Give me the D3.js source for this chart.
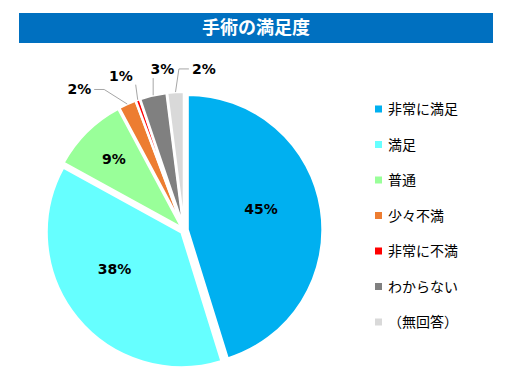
<!DOCTYPE html>
<html>
<head>
<meta charset="utf-8">
<script src="https://cdn.jsdelivr.net/npm/d3@7"></script>
<style>
  body { margin: 0; background: #fff; }
  svg { display: block; }
</style>
</head>
<body>
<div id="chart"></div>
<script>
const title = "手術の満足度";
const categories = ["非常に満足", "満足", "普通", "少々不満", "非常に不満", "わからない", "（無回答）"];
const values = [45.2, 37.8, 9.2, 2.1, 0.5, 3.2, 2.0];
const colors = ["#00B0F0", "#66FFFF", "#99FF99", "#ED7D31", "#FF0000", "#808080", "#D9D9D9"];

const W = 514, H = 385;
const cx = 184.2, cy = 230.2, R = 135, explode = 3.4;

const svg = d3.select("#chart").append("svg")
  .attr("width", W).attr("height", H);

// title bar
svg.append("rect").attr("x", 19).attr("y", 13).attr("width", 474).attr("height", 30)
  .attr("fill", "#0070C0");
svg.append("text").attr("x", 256).attr("y", 28).attr("dy", "0.36em")
  .attr("text-anchor", "middle").attr("fill", "#fff")
  .style("font-family", "'Noto Sans CJK JP'").style("font-weight", "bold").style("font-size", "18px")
  .text(title);

const pie = d3.pie().sort(null).value(d => d.v);
const data = pie(categories.map((c, i) => ({ c, v: values[i], col: colors[i] })));
const arc = d3.arc().innerRadius(0).outerRadius(R);

const mid = d => (d.startAngle + d.endAngle) / 2;

const g = svg.append("g").attr("transform", `translate(${cx},${cy})`);

g.selectAll("path.slice").data(data).enter().append("path")
  .attr("class", "slice")
  .attr("d", arc)
  .attr("transform", d => `translate(${explode * Math.sin(mid(d))},${-explode * Math.cos(mid(d))})`)
  .attr("fill", d => d.data.col)
  .attr("stroke", "#fff").attr("stroke-width", 2.5).attr("stroke-linejoin", "round");

const fmt = v => Math.round(v) + "%";
const labelFont = sel => sel.style("font-family", "'DejaVu Sans'").style("font-weight", "bold")
  .style("font-size", "14px").attr("fill", "#000");

// inside labels for big slices (nudged a bit toward the top, like excel does)
const inside = data.filter(d => d.data.v >= 5);
inside.forEach(d => {
  let a = mid(d);
  const span = d.endAngle - d.startAngle;
  const toTop = a > Math.PI ? (2 * Math.PI - a) : -a;
  const big = span > Math.PI / 2;
  if (big) a += toTop * 0.08;
  const lr = R * (big ? 0.59 : 0.74);
  g.append("text")
    .attr("x", lr * Math.sin(a)).attr("y", -lr * Math.cos(a)).attr("dy", "0.36em")
    .attr("text-anchor", "middle")
    .call(labelFont)
    .text(fmt(d.data.v));
});

// outside labels: evenly spread in x, sitting on an ellipse above the pie
const outside = data.filter(d => d.data.v < 5);
const spacing = 41.5, ea = 212, eb = 162;
const meanX = d3.mean(outside, d => 165 * Math.sin(mid(d)));
outside.forEach((d, i) => {
  const lx = meanX + (i - (outside.length - 1) / 2) * spacing;
  const ly = -eb * Math.sqrt(Math.max(0, 1 - (lx / ea) ** 2));
  const t = g.append("text")
    .attr("x", lx).attr("y", ly).attr("dy", "0.36em")
    .attr("text-anchor", "middle")
    .call(labelFont)
    .text(fmt(d.data.v));
  const bb = t.node().getBBox();
  const a = mid(d);
  const ex = (R + explode) * Math.sin(a), ey = -(R + explode) * Math.cos(a);
  const pad = 3;
  const x0 = bb.x - pad, x1 = bb.x + bb.width + pad, y0 = bb.y - 1, y1 = bb.y + bb.height + 1;
  const nx = Math.max(x0, Math.min(ex, x1)), ny = Math.max(y0, Math.min(ey, y1));
  const pts = [[ex, ey]];
  if (ex > x1 + 6 || ex < x0 - 6) {
    const side = ex > x1 ? x1 : x0;
    const elbow = ex > x1 ? side + 10 : side - 10;
    const my = (y0 + y1) / 2;
    if (Math.abs(ex - side) > 12) { pts.push([elbow, my]); pts.push([side, my]); }
    else pts.push([nx, ny]);
  } else {
    pts.push([nx, ny]);
  }
  g.append("path")
    .attr("d", d3.line()(pts))
    .attr("fill", "none").attr("stroke", "#A6A6A6").attr("stroke-width", 1);
});

// legend
const legend = svg.append("g").attr("transform", "translate(375,109)");
const step = 35.5;
categories.forEach((c, i) => {
  const row = legend.append("g").attr("transform", `translate(0,${i * step})`);
  row.append("rect").attr("x", 0).attr("y", -3.5).attr("width", 7).attr("height", 7)
    .attr("fill", colors[i]);
  row.append("text").attr("x", 13).attr("y", 0).attr("dy", "0.36em")
    .style("font-family", "'Noto Sans CJK JP'").style("font-size", "14px").attr("fill", "#000")
    .text(c);
});
</script>
</body>
</html>
